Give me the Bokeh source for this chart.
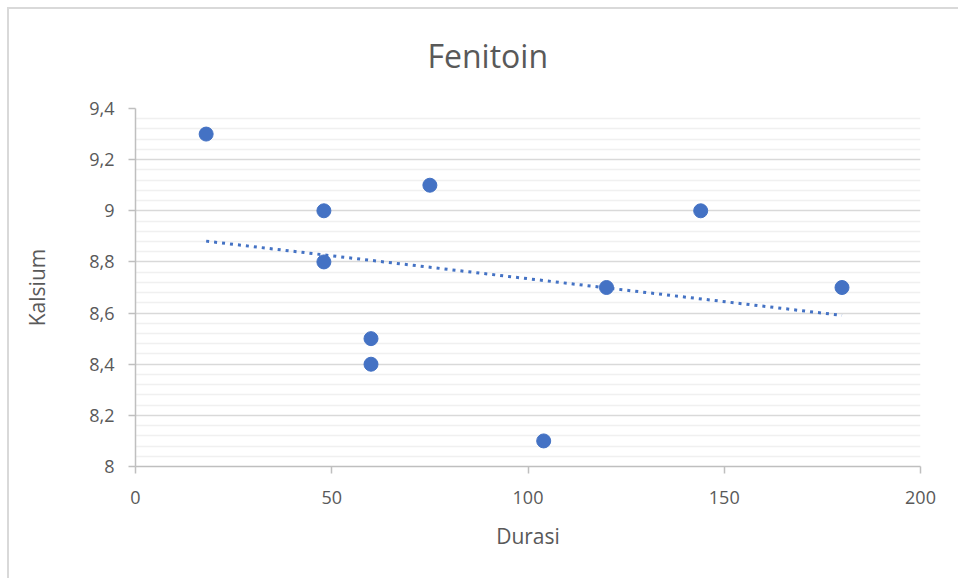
import numpy as np
from bokeh.plotting import figure
from bokeh.models import FixedTicker, ColumnDataSource, InlineStyleSheet
from bokeh.embed import file_html
from bokeh.resources import INLINE

durasi = [18, 48, 48, 60, 60, 75, 104, 120, 144, 180]
kalsium = [9.3, 9.0, 8.8, 8.5, 8.4, 9.1, 8.1, 8.7, 9.0, 8.7]
x_ticks = [0, 50, 100, 150, 200]
y_ticks = [8.0, 8.2, 8.4, 8.6, 8.8, 9.0, 9.2, 9.4]
y_tick_labels = ["8", "8,2", "8,4", "8,6", "8,8", "9", "9,2", "9,4"]
y_minor = [8.04, 8.08, 8.12, 8.16, 8.24, 8.28, 8.32, 8.36, 8.44, 8.48, 8.52, 8.56,
           8.64, 8.68, 8.72, 8.76, 8.84, 8.88, 8.92, 8.96, 9.04, 9.08, 9.12, 9.16,
           9.24, 9.28, 9.32, 9.36]

FONT = "Open Sans"
TXT = "#595959"

p = figure(width=958, height=578, x_range=(0, 200), y_range=(8, 9.4),
           output_backend="svg", toolbar_location=None,
           min_border_left=135, min_border_right=38, min_border_top=107, min_border_bottom=112)
p.outline_line_color = None

# outer chart border (top and left edges visible in the reference)
p.stylesheets = [InlineStyleSheet(css="""
:host { position: relative; }
:host::after {
  content: ""; position: absolute; left: 7px; top: 7px; width: 2000px; height: 2000px;
  border-left: 2px solid #d9d9d9; border-top: 2px solid #d9d9d9;
  z-index: 100; pointer-events: none;
}
""")]

p.title.text = "Fenitoin"
p.title.align = "left"
p.title.offset = 292
p.title.text_font = FONT
p.title.text_font_size = "32px"
p.title.text_font_style = "normal"
p.title.text_color = TXT
p.title.standoff = 63

p.xaxis.ticker = FixedTicker(ticks=x_ticks)
p.yaxis.ticker = FixedTicker(ticks=y_ticks, minor_ticks=y_minor)
p.yaxis.major_label_overrides = {t: l for t, l in zip(y_ticks, y_tick_labels)}

for ax in (p.xaxis, p.yaxis):
    ax.axis_line_color = "#bfbfbf"
    ax.axis_line_width = 1.5
    ax.major_tick_line_color = "#bfbfbf"
    ax.major_tick_line_width = 1.5
    ax.major_tick_out = 7
    ax.major_tick_in = 0
    ax.minor_tick_line_color = None
    ax.major_label_text_font = FONT
    ax.major_label_text_font_size = "18px"
    ax.major_label_text_color = TXT
    ax.axis_label_text_font = FONT
    ax.axis_label_text_font_size = "21px"
    ax.axis_label_text_font_style = "normal"
    ax.axis_label_text_color = TXT

p.xaxis.axis_label = "Durasi"
p.yaxis.axis_label = "Kalsium"
p.xaxis.major_label_standoff = 17
p.yaxis.major_label_standoff = 14
p.xaxis.axis_label_standoff = 15
p.yaxis.axis_label_standoff = 35

p.xgrid.grid_line_color = None
p.ygrid.grid_line_color = "#d9d9d9"
p.ygrid.grid_line_width = 1.5
p.ygrid.minor_grid_line_color = "#f0f0f0"
p.ygrid.minor_grid_line_width = 1.5

# linear trendline from the data
slope, intercept = np.polyfit(durasi, kalsium, 1)
tx = [min(durasi), max(durasi)]
ty = [intercept + slope * v for v in tx]
p.line(tx, ty, line_color="#4472C4", line_width=3, line_dash="3 5")

src = ColumnDataSource(dict(x=durasi, y=kalsium))
p.scatter("x", "y", source=src, size=14, fill_color="#4472C4", line_color="#4472C4")

open("out.html", "w").write(file_html(p, INLINE))
